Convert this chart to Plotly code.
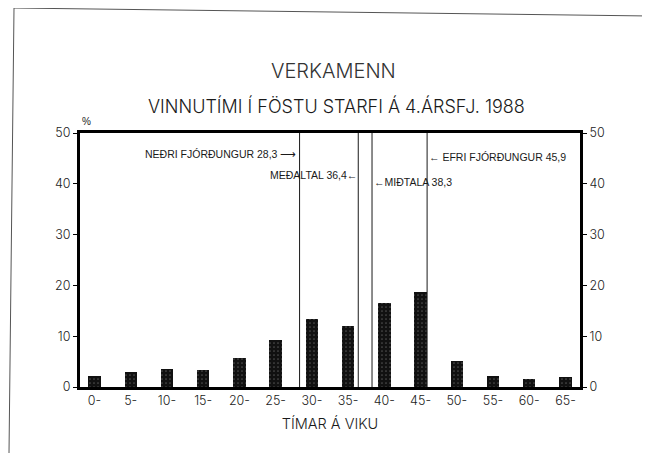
import plotly.graph_objects as go

# hours per week, share of workers (%)
bins = [0, 5, 10, 15, 20, 25, 30, 35, 40, 45, 50, 55, 60, 65]
bin_labels = ["0-", "5-", "10-", "15-", "20-", "25-", "30-", "35-", "40-", "45-", "50-", "55-", "60-", "65-"]
shares = [2.2, 3.0, 3.6, 3.4, 5.8, 9.2, 13.3, 12.1, 16.5, 18.7, 5.1, 2.1, 1.6, 2.0]

# summary statistics (hours)
stat_names = ["NEÐRI FJÓRÐUNGUR", "MEÐALTAL", "MIÐTALA", "EFRI FJÓRÐUNGUR"]
stat_values = [28.3, 36.4, 38.3, 45.9]

y_ticks = [0, 10, 20, 30, 40, 50]

FONT = "Liberation Sans"
LIGHT = "Inter"
INK = "#1a1a1a"

# the page body has an 8px margin, so the figure is drawn 8px smaller
# and everything below is placed in window pixels through px()/py()
def px(x):
    return (x - 80) / 500

def py(y):
    return (387 - y) / 254

fig = go.Figure()

fig.add_trace(go.Bar(
    x=bins,
    y=shares,
    width=1.7,
    marker=dict(
        color="#111111",
        line=dict(width=0),
        pattern=dict(shape=".", fgcolor="#8a8a8a", size=4, solidity=0.15),
    ),
    showlegend=False,
))

# invisible trace to carry the right-hand axis
fig.add_trace(go.Scatter(x=[bins[0]], y=[0], yaxis="y2", mode="markers",
                         marker=dict(opacity=0), showlegend=False, hoverinfo="skip"))

for v in stat_values:
    fig.add_shape(type="line", xref="x", yref="paper", x0=v, x1=v, y0=0, y1=1,
                  line=dict(color=INK, width=1))

# labels for the vertical lines
lab_y = [154, 175, 182, 157]
lab_text = []
for name, v in zip(stat_names, stat_values):
    val = f"{v:.1f}".replace(".", ",")
    lab_text.append((name, val))

lab_font = dict(family=FONT, size=10.5, color=INK)
fig.add_annotation(x=stat_values[0], xref="x", y=py(lab_y[0]), yref="paper",
                   text=f"{lab_text[0][0]} {lab_text[0][1]} ⟶", showarrow=False,
                   xanchor="right", yanchor="middle", xshift=-2, font=lab_font)
fig.add_annotation(x=stat_values[1], xref="x", y=py(lab_y[1]), yref="paper",
                   text=f"{lab_text[1][0]} {lab_text[1][1]}←", showarrow=False,
                   xanchor="right", yanchor="middle", xshift=1, font=lab_font)
fig.add_annotation(x=stat_values[2], xref="x", y=py(lab_y[2]), yref="paper",
                   text=f"←{lab_text[2][0]} {lab_text[2][1]}", showarrow=False,
                   xanchor="left", yanchor="middle", xshift=0, font=lab_font)
fig.add_annotation(x=stat_values[3], xref="x", y=py(lab_y[3]), yref="paper",
                   text=f"← {lab_text[3][0]} {lab_text[3][1]}", showarrow=False,
                   xanchor="left", yanchor="middle", xshift=0, font=lab_font)

fig.add_annotation(x=px(333), y=py(71), xref="paper", yref="paper",
                   text="VERKAMENN", showarrow=False, xanchor="center", yanchor="middle",
                   font=dict(family=LIGHT, size=20, color="#333333", weight=300))
fig.add_annotation(x=px(336), y=py(106.5), xref="paper", yref="paper",
                   text="VINNUTÍMI Í FÖSTU STARFI Á 4.ÁRSFJ. 1988", showarrow=False,
                   xanchor="center", yanchor="middle",
                   font=dict(family=LIGHT, size=18, color=INK, weight=300))
fig.add_annotation(x=px(86), y=py(121), xref="paper", yref="paper",
                   text="%", showarrow=False, xanchor="center", yanchor="middle",
                   font=dict(family=FONT, size=10, color=INK))

# scanned page border
page = dict(color="#555555", width=1)
fig.add_shape(type="line", xref="paper", yref="paper",
              x0=px(14), y0=py(8), x1=px(650), y1=py(16), line=page)
fig.add_shape(type="line", xref="paper", yref="paper",
              x0=px(14), y0=py(8), x1=px(9), y1=py(453), line=page)
fig.add_shape(type="line", xref="paper", yref="paper",
              x0=px(647), y0=py(395), x1=px(647), y1=py(453),
              line=dict(color="#aaaaaa", width=1))

axis_font = dict(family=LIGHT, size=12.5, color=INK, weight=300)

fig.update_layout(
    width=642,
    height=445,
    margin=dict(l=72, r=70, t=125, b=66),
    paper_bgcolor="white",
    plot_bgcolor="white",
    bargap=0,
    xaxis=dict(
        range=[-2, 67],
        tickvals=bins,
        ticktext=bin_labels,
        ticks="",
        showgrid=False,
        zeroline=False,
        showline=True,
        linecolor="black",
        linewidth=3,
        mirror=True,
        tickfont=axis_font,
        title=dict(text="TÍMAR Á VIKU", font=dict(family=LIGHT, size=14.5, color=INK, weight=300),
                   standoff=12),
    ),
    yaxis=dict(
        range=[0, 50],
        tickvals=y_ticks,
        ticks="outside",
        ticklen=4,
        tickwidth=1,
        tickcolor="black",
        showgrid=False,
        zeroline=False,
        showline=True,
        linecolor="black",
        linewidth=3,
        tickfont=axis_font,
    ),
    yaxis2=dict(
        range=[0, 50],
        tickvals=y_ticks,
        overlaying="y",
        side="right",
        ticks="outside",
        ticklen=4,
        tickwidth=1,
        tickcolor="black",
        showgrid=False,
        zeroline=False,
        showline=True,
        linecolor="black",
        linewidth=3,
        tickfont=axis_font,
    ),
)

fig.write_html("out.html")
